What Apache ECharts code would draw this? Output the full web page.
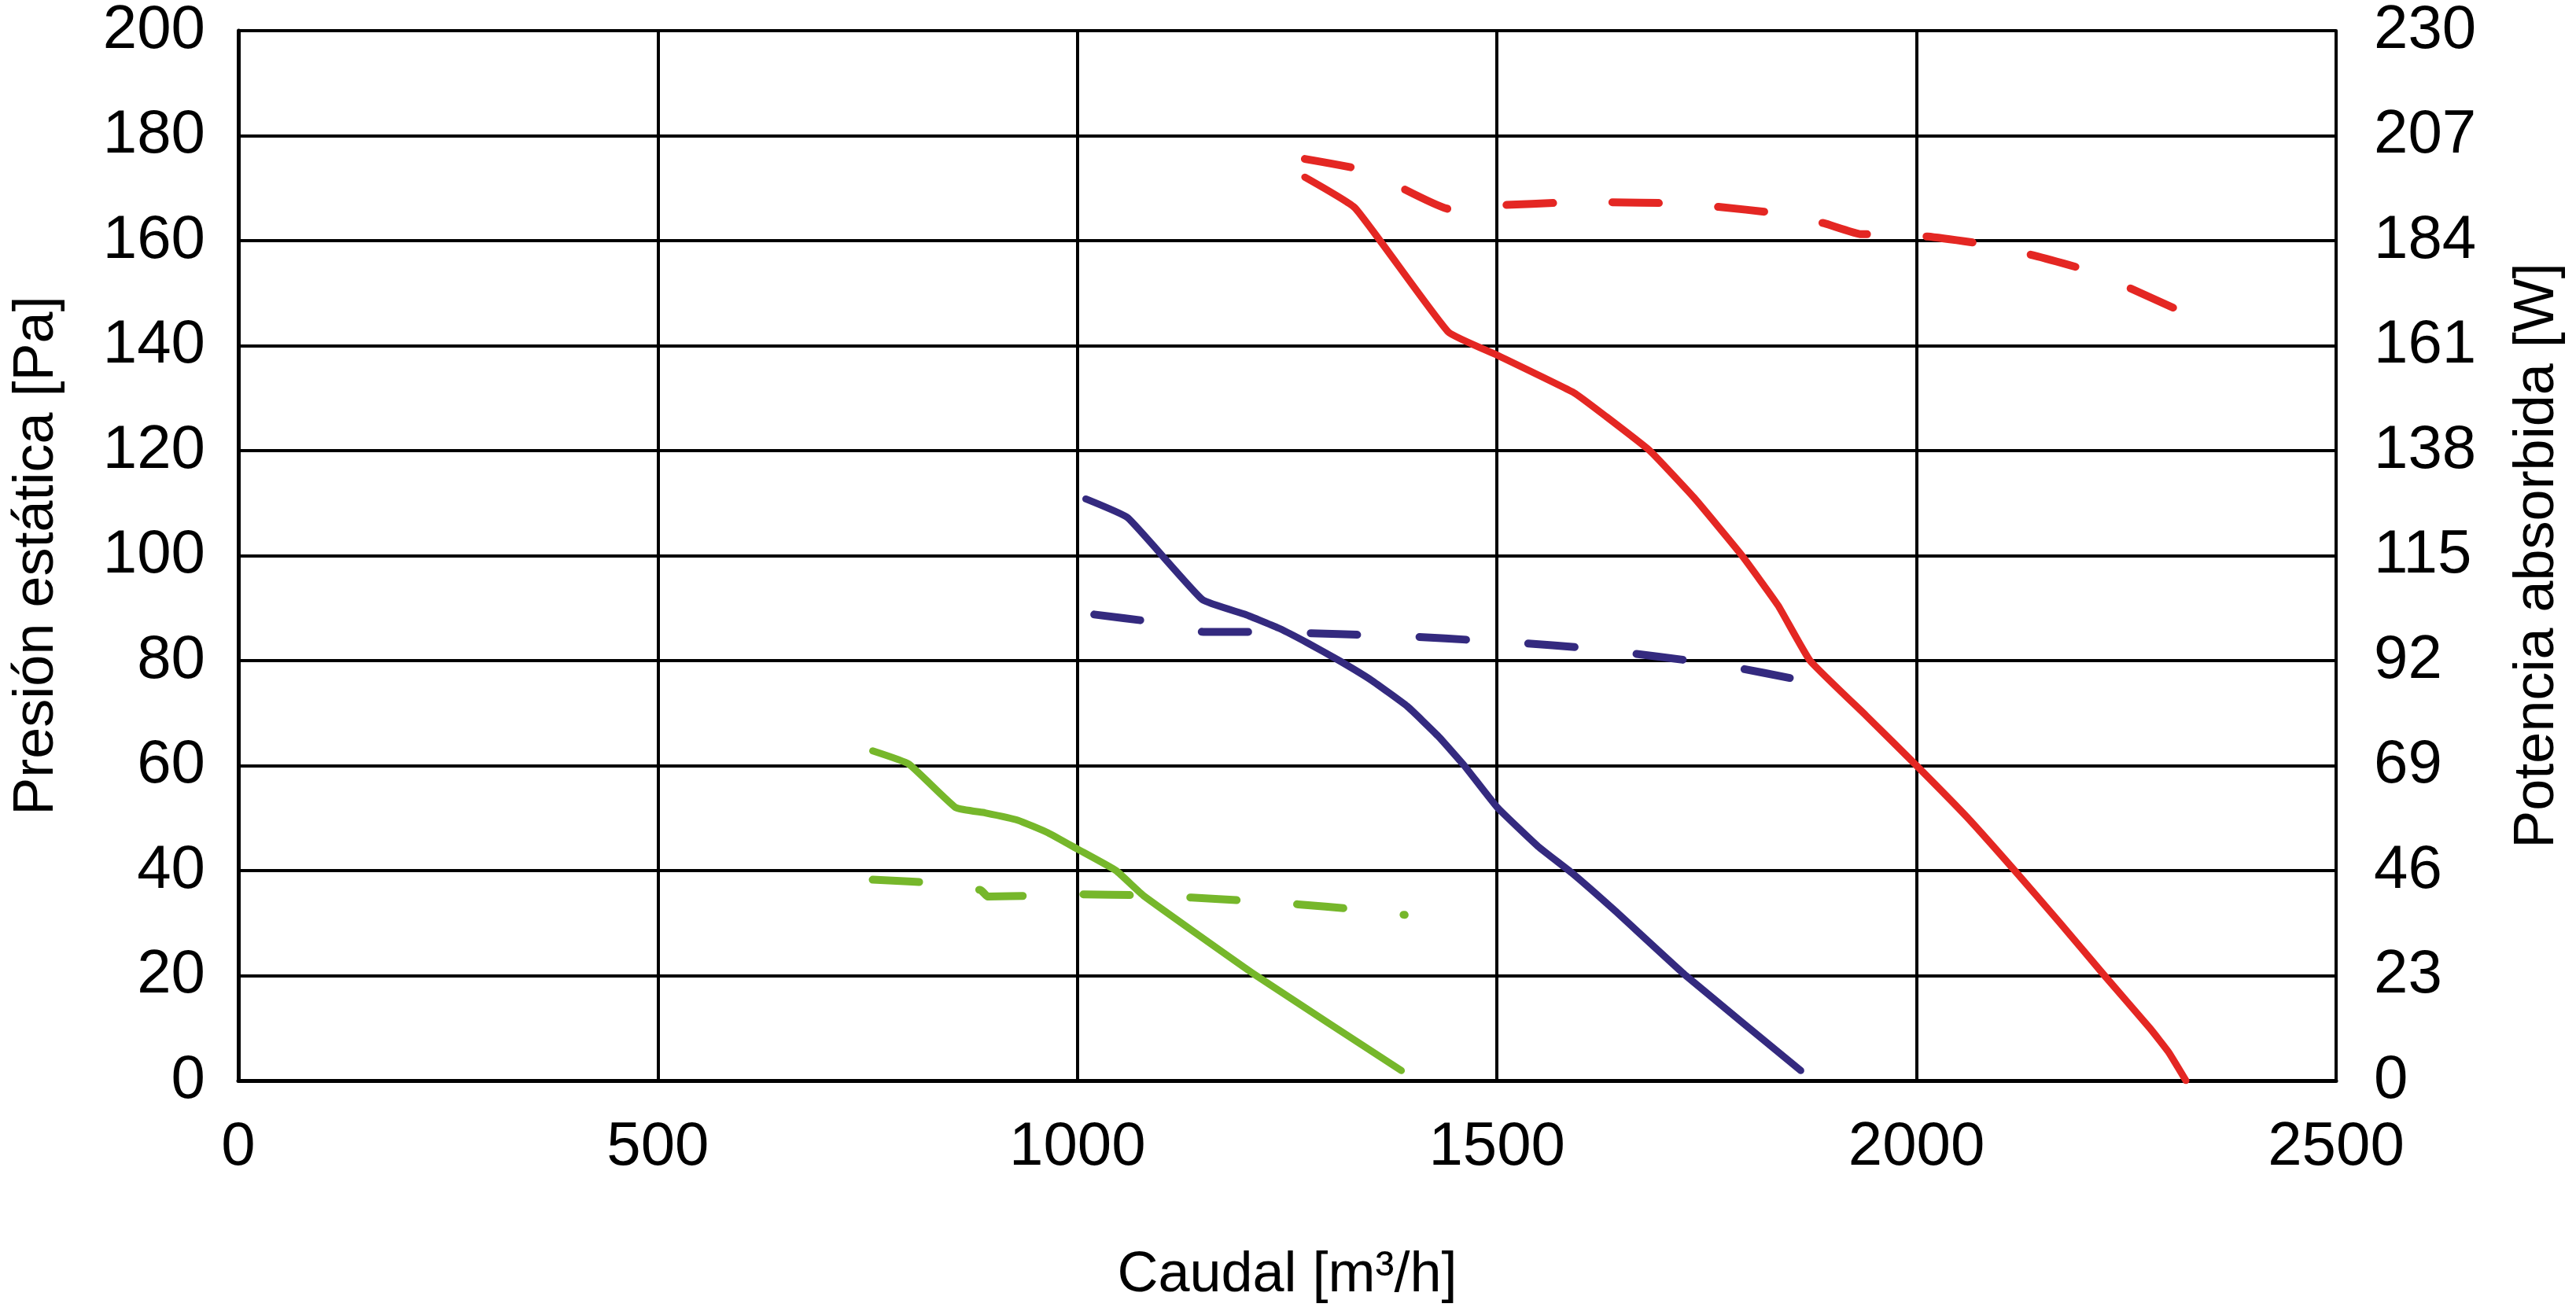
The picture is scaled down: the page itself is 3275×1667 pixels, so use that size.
<!DOCTYPE html>
<html>
<head>
<meta charset="utf-8">
<script src="https://cdn.jsdelivr.net/npm/echarts@6/dist/echarts.min.js"></script>
<style>
html,body{margin:0;padding:0;background:#fff;}
#chart{width:3275px;height:1667px;}
</style>
</head>
<body>
<div id="chart"></div>
<script>
// Axis ranges / ticks
const xTicks = [0, 500, 1000, 1500, 2000, 2500];
const pressureTicks = [0, 20, 40, 60, 80, 100, 120, 140, 160, 180, 200];
const powerTicks = [0, 23, 46, 69, 92, 115, 138, 161, 184, 207, 230];

// Static pressure curves [flow m3/h, Pa]
const redPressure = [[1271,172.1],[1331,166.2],[1442,142.6],[1500,138.2],[1592,131],[1630,126.5],[1682,120],[1735,111],[1792,100],[1835,90.5],[1873,80],[1940,69.5],[2000,60],[2060,50.2],[2117,40],[2170,30.2],[2224,20],[2278,10],[2300,5.5],[2321,0]];
const bluePressure = [[1010,110.8],[1060,107.2],[1149,91.6],[1200,88.8],[1241,86.1],[1275,83.3],[1312,80],[1350,76.3],[1393,71.3],[1430,65.6],[1461,60],[1500,52.1],[1549,44.6],[1589,39.6],[1639,32.6],[1725,20],[1862,1.9]];
const greenPressure = [[756,62.8],[799,60.3],[855,52.0],[890,51.0],[929,49.6],[965,47.2],[1000,44.1],[1046,40],[1079,35.2],[1213,20],[1386,1.9]];

// Absorbed power curves [flow m3/h, W]
const redPower = [[1271,201.9],[1345,199.3],[1444,190.9],[1509,191.8],[1574,192.3],[1638,192.4],[1703,192.2],[1764,191.4],[1829,190.1],[1890,187.8],[1934,185.4],[1952,185.4],[2013,184.9],[2078,183.3],[2139,180.8],[2200,177.7],[2253,173.7],[2318,168.3]];
const bluePower = [[1020,102.1],[1089,100.5],[1150,98.3],[1217,98.3],[1279,98.0],[1344,97.6],[1406,97.2],[1471,96.5],[1534,95.8],[1598,94.9],[1660,93.6],[1725,92.1],[1787,90.4],[1849,88.2]];
const greenPower = [[756,44.0],[840,43.2],[885,41.7],[893,40.3],[945,40.5],[1008,40.8],[1073,40.6],[1136,40.1],[1201,39.4],[1263,38.6],[1328,37.6],[1390,36.3]];

const RED = '#E42723', BLUE = '#342A7F', GREEN = '#76B72B';
const FONT = "'Liberation Sans', Arial, sans-serif";
const FS = 78;
const TFS = 72;

const chart = echarts.init(document.getElementById('chart'), null, {renderer: 'canvas'});

function solid(data, color) {
  return {type: 'line', data: data, yAxisIndex: 0, symbol: 'none', smooth: 0.12,
    lineStyle: {color: color, width: 9, cap: 'round', join: 'round'}, z: 3, animation: false};
}
function dashed(data, color, gap) {
  return {type: 'line', data: data, yAxisIndex: 1, symbol: 'none', smooth: 0.12,
    lineStyle: {color: color, width: 10, type: [59, gap], cap: 'round', join: 'round'}, z: 3, animation: false};
}

const axisLbl = {color: '#000', fontSize: FS, fontFamily: FONT, formatter: function (v) { return String(v); }};
const nameStyle = {color: '#000', fontSize: TFS, fontFamily: FONT};

chart.setOption({
  backgroundColor: '#fff',
  animation: false,
  grid: {left: 303, right: 305, top: 37, bottom: 293, containLabel: false},
  xAxis: {
    type: 'value', min: xTicks[0], max: xTicks[xTicks.length-1], interval: xTicks[1]-xTicks[0],
    name: 'Caudal [m³/h]', nameLocation: 'middle', nameGap: 212,
    nameTextStyle: nameStyle,
    axisLine: {show: true, onZero: false, lineStyle: {color: '#000', width: 5}},
    axisTick: {show: false},
    axisLabel: Object.assign({}, axisLbl, {margin: 46}),
    splitLine: {show: true, lineStyle: {color: '#000', width: 4}}
  },
  yAxis: [{
    type: 'value', min: pressureTicks[0], max: pressureTicks[pressureTicks.length-1], interval: pressureTicks[1]-pressureTicks[0],
    name: 'Presión estática [Pa]', nameLocation: 'middle', nameGap: 220,
    nameTextStyle: nameStyle,
    axisLine: {show: true, lineStyle: {color: '#000', width: 5}},
    axisTick: {show: false},
    axisLabel: Object.assign({}, axisLbl, {margin: 42}),
    splitLine: {show: true, lineStyle: {color: '#000', width: 4}}
  }, {
    type: 'value', position: 'right', min: powerTicks[0], max: powerTicks[powerTicks.length-1], interval: powerTicks[1]-powerTicks[0],
    name: 'Potencia absorbida [W]', nameLocation: 'middle', nameGap: 220, nameRotate: 90,
    nameTextStyle: nameStyle,
    axisLine: {show: true, lineStyle: {color: '#000', width: 4}},
    axisTick: {show: false},
    axisLabel: Object.assign({}, axisLbl, {margin: 48}),
    splitLine: {show: false}
  }],
  series: [
    dashed(redPower, RED, 75.5), dashed(bluePower, BLUE, 79.5), dashed(greenPower, GREEN, 77),
    solid(redPressure, RED), solid(bluePressure, BLUE), solid(greenPressure, GREEN)
  ]
});
</script>
</body>
</html>
